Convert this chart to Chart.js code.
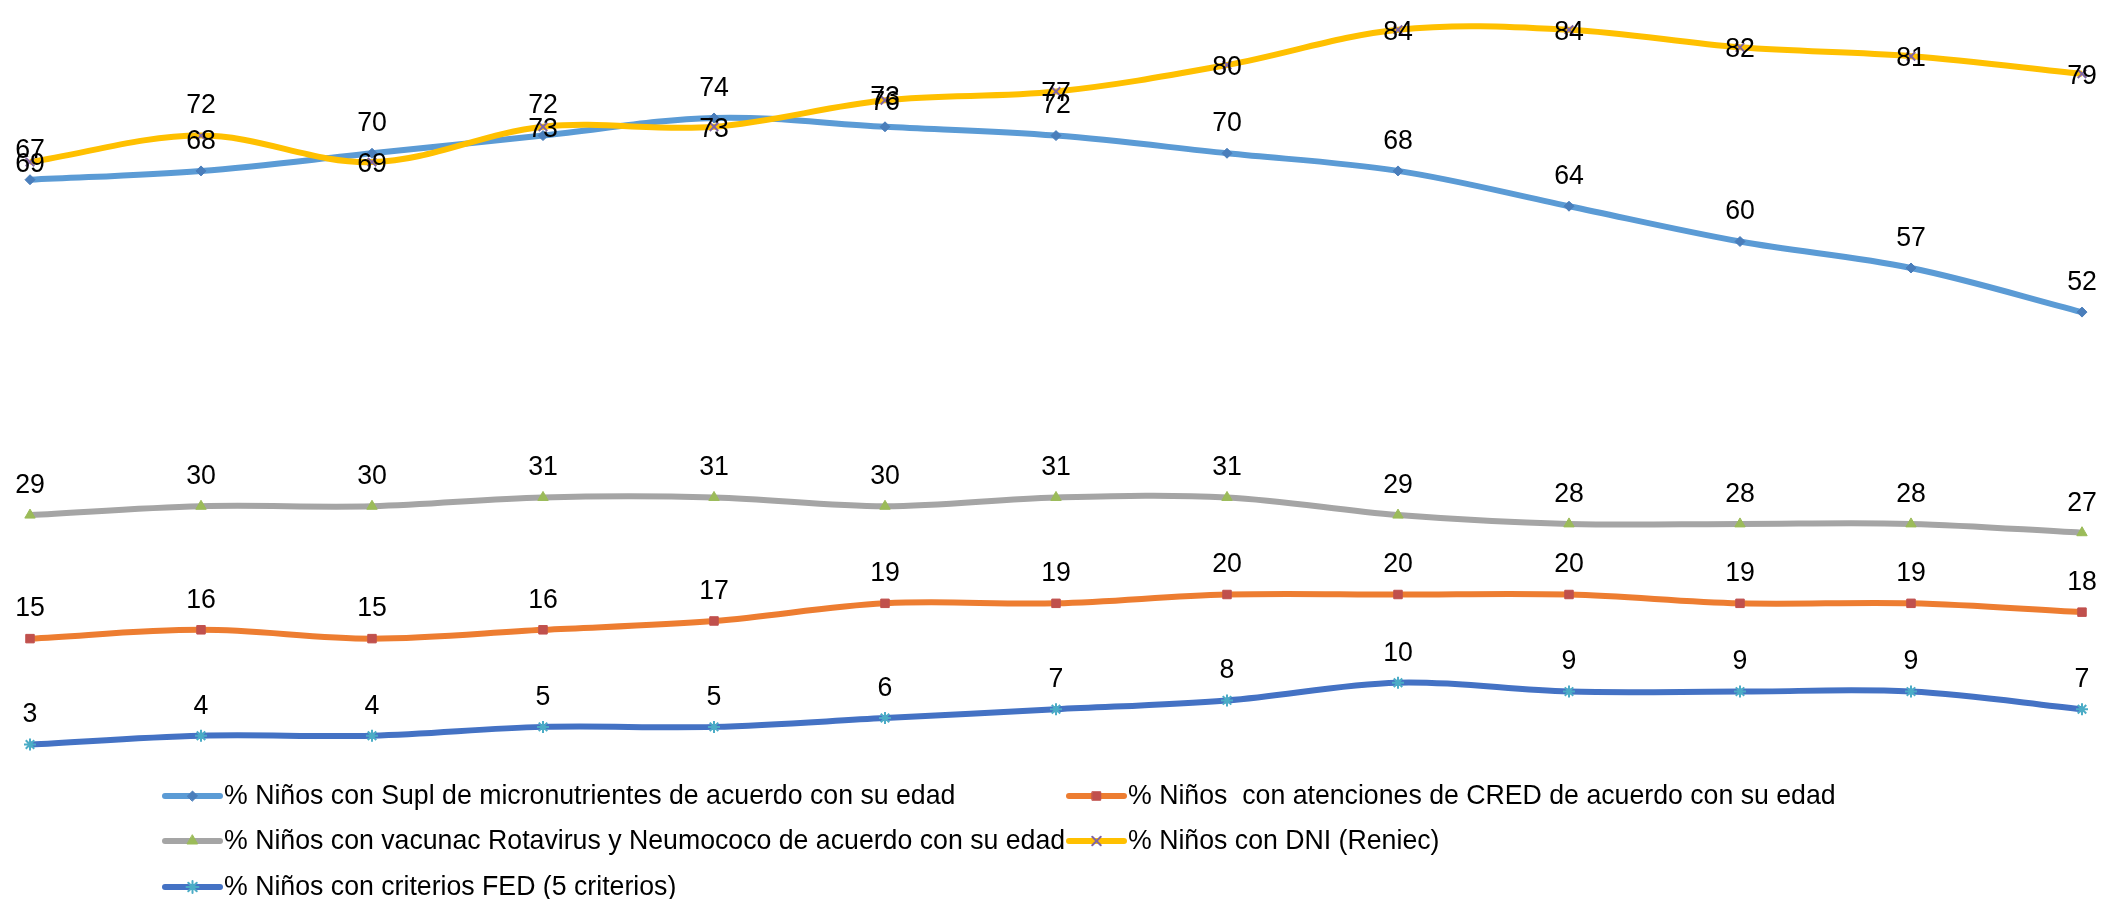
<!DOCTYPE html>
<html>
<head>
<meta charset="utf-8">
<script src="https://cdn.jsdelivr.net/npm/chart.js@4"></script>
<style>
html, body { margin: 0; padding: 0; background: #fff; }
#wrap { width: 2102px; height: 899px; position: relative; }
</style>
</head>
<body>
<div id="wrap"><canvas id="lineChart"></canvas></div>
<script>
/* DATA */
const categories = ['1', '2', '3', '4', '5', '6', '7', '8', '9', '10', '11', '12', '13'];
const suplValues = [67, 68, 70, 72, 74, 73, 72, 70, 68, 64, 60, 57, 52];
const credValues = [15, 16, 15, 16, 17, 19, 19, 20, 20, 20, 19, 19, 18];
const vacunaValues = [29, 30, 30, 31, 31, 30, 31, 31, 29, 28, 28, 28, 27];
const dniValues = [69, 72, 69, 73, 73, 76, 77, 80, 84, 84, 82, 81, 79];
const fedValues = [3, 4, 4, 5, 5, 6, 7, 8, 10, 9, 9, 9, 7];
const seriesNames = [
  '% Niños con Supl de micronutrientes de acuerdo con su edad',
  '% Niños  con atenciones de CRED de acuerdo con su edad',
  '% Niños con vacunac Rotavirus y Neumococo de acuerdo con su edad',
  '% Niños con DNI (Reniec)',
  '% Niños con criterios FED (5 criterios)'
];

const FONT = '26.7px "Liberation Sans", Arial, sans-serif';
const STRETCH = 1.06; // text in the original is a little taller than wide

function tallText(ctx, text, x, y) {
  ctx.save();
  ctx.translate(x, y);
  ctx.scale(1, STRETCH);
  ctx.fillText(text, 0, 0);
  ctx.restore();
}

/* value labels drawn above each point (DNI ones on the point) */
const valueLabels = {
  id: 'valueLabels',
  afterDatasetsDraw(chart) {
    const ctx = chart.ctx;
    ctx.save();
    ctx.font = FONT;
    ctx.fillStyle = '#000';
    ctx.textAlign = 'center';
    ctx.textBaseline = 'middle';
    chart.data.datasets.forEach((ds, i) => {
      const meta = chart.getDatasetMeta(i);
      meta.data.forEach((pt, j) => {
        let dy = ds.labelDy;
        if (ds.labelDyAt && ds.labelDyAt[j] !== undefined) dy = ds.labelDyAt[j];
        tallText(ctx, String(ds.data[j]), pt.x, pt.y + dy);
      });
    });
    ctx.restore();
  }
};

/* legend in two columns like the original */
const gridLegend = {
  id: 'gridLegend',
  afterDraw(chart) {
    const ctx = chart.ctx;
    const cols = [165, 1069];
    const rows = [796, 841, 887];
    ctx.save();
    chart.data.datasets.forEach((ds, i) => {
      const x = cols[i % 2];
      const y = rows[Math.floor(i / 2)];
      ctx.strokeStyle = ds.borderColor;
      ctx.lineWidth = 6;
      ctx.lineCap = 'round';
      ctx.beginPath();
      ctx.moveTo(x, y);
      ctx.lineTo(x + 55, y);
      ctx.stroke();
      ctx.fillStyle = ds.pointBackgroundColor;
      ctx.strokeStyle = ds.pointBorderColor;
      ctx.lineWidth = ds.pointBorderWidth;
      Chart.helpers.drawPoint(ctx, {
        pointStyle: ds.pointStyle,
        radius: ds.pointRadius,
        rotation: 0,
        borderWidth: ds.pointBorderWidth
      }, x + 27.5, y);
      ctx.font = FONT;
      ctx.fillStyle = '#000';
      ctx.textAlign = 'left';
      ctx.textBaseline = 'middle';
      tallText(ctx, seriesNames[i], x + 59, y);
    });
    ctx.restore();
  }
};

const ctx = document.getElementById('lineChart');

new Chart(ctx, {

type: 'line',

data: {

labels: categories,

datasets: [{
label: seriesNames[0],
data: suplValues,
borderColor: '#5b9bd5',
pointStyle: 'rectRot',
pointRadius: 5,
pointBackgroundColor: '#4a7ebb',
pointBorderColor: '#4a7ebb',
pointBorderWidth: 1,
labelDy: -30,
order: 1
}, {
label: seriesNames[1],
data: credValues,
borderColor: '#ed7d31',
pointStyle: 'rect',
pointRadius: 6,
pointBackgroundColor: '#c0504d',
pointBorderColor: '#c0504d',
pointBorderWidth: 1,
labelDy: -30,
order: 2
}, {
label: seriesNames[2],
data: vacunaValues,
borderColor: '#a5a5a5',
pointStyle: 'triangle',
pointRadius: 6,
pointBackgroundColor: '#9bbb59',
pointBorderColor: '#9bbb59',
pointBorderWidth: 1,
labelDy: -30,
order: 3
}, {
label: seriesNames[3],
data: dniValues,
borderColor: '#ffc000',
pointStyle: 'crossRot',
pointRadius: 6,
pointBackgroundColor: '#8064a2',
pointBorderColor: '#8064a2',
pointBorderWidth: 2,
labelDy: 2,
labelDyAt: { 1: -30 },
order: 0
}, {
label: seriesNames[4],
data: fedValues,
borderColor: '#4472c4',
pointStyle: 'star',
pointRadius: 6,
pointBackgroundColor: '#4bacc6',
pointBorderColor: '#4bacc6',
pointBorderWidth: 2,
labelDy: -30,
order: 4
}]

},

options: {

responsive: true,
maintainAspectRatio: false,
animation: false,

layout: {
padding: { left: 30, right: 20, top: 0, bottom: 128 }
},

datasets: {
line: {
borderWidth: 6,
tension: 0.35,
clip: false,
fill: false
}
},

scales: {
x: { display: false },
y: { display: false, min: 0, max: 86.46 }
},

plugins: {
legend: { display: false },
tooltip: { enabled: false }
}

},

plugins: [valueLabels, gridLegend]

});
</script>
</body>
</html>
